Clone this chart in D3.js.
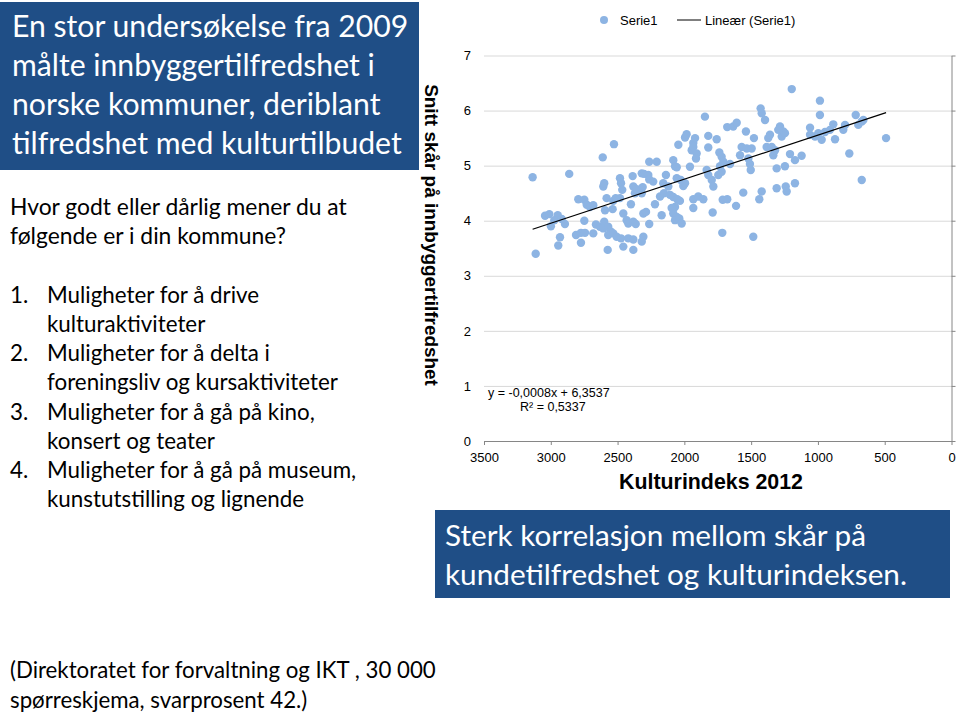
<!DOCTYPE html>
<html>
<head>
<meta charset="utf-8">
<script src="https://cdn.jsdelivr.net/npm/d3@7"></script>
<style>
  body { margin: 0; background: #fff; }
  svg { display: block; }
</style>
</head>
<body>
<svg id="chart" width="960" height="715"></svg>
<script>
// kulturindeks (x) and snitt skår (y) per kommune
var kulturindeks = [
  3136,3113,2862,2527,2611,3043,3011,2948,2974,2999,2918,2894,2931,2944,
  2811,2774,2774,2744,2794,2749,2731,2707,2682,2749,
  2682,2662,2632,2600,2607,2570,2549,2570,2532,2507,2474,2457,2420,2382,2382,2574,
  2607,2600,2582,2532,2514,2482,2594,2537,2482,2474,2465,2387,2319,
  2382,2357,2370,2400,2319,2457,2432,2420,2382,2364,
  2312,2302,2270,2263,2233,2263,2207,2307,2287,2263,2307,2319,
  2220,2182,2170,2153,2138,2158,2120,2108,2083,2070,2095,2083,2057,2070,2038,2020,
  2053,2033,2057,2027,2008,1995,2083,2070,2057,2045,1995,1983,1958,
  1945,1933,1920,1908,1913,1933,1933,1933,1896,1858,
  1846,1833,1821,1795,1783,1788,1821,1821,1758,1738,1721,1708,1733,1746,1721,
  1713,1679,1716,1679,1634,1608,1658,1613,1559,
  1583,1571,1533,1496,1521,1509,1503,1539,1479,1484,
  1429,1421,1396,1384,1372,1421,1439,
  1196,1359,1346,1334,1321,1284,1271,1259,1247,1297,
  1209,1172,1122,1309,1247,1309,1241,1234,1172,
  985,985,1059,1059,1022,997,972,947,910,885,872,810,797,
  717,698,672,660,765,672,490
];
var snittSkar = [
  4.79,3.40,4.85,5.39,5.15,4.09,4.12,4.10,4.01,3.90,4.03,3.94,3.70,3.55,
  3.74,3.78,3.60,3.78,4.39,4.38,4.29,4.25,4.28,4.00,
  3.77,3.93,3.89,3.98,3.86,3.89,3.80,3.74,3.77,3.71,3.68,3.53,3.68,3.66,3.47,3.47,
  4.62,4.68,4.41,4.36,4.41,4.41,4.19,4.21,4.77,4.68,4.56,4.81,4.86,
  4.62,4.57,4.50,4.30,4.50,4.13,4.01,3.95,3.98,3.94,
  4.61,4.85,4.83,4.75,4.71,5.07,5.07,4.13,4.16,3.94,3.71,3.62,
  4.30,4.44,4.10,4.50,4.83,4.68,4.62,4.47,4.43,4.25,4.23,4.13,4.07,4.01,4.04,3.95,
  4.39,4.36,4.77,4.74,4.63,4.68,5.10,4.99,4.97,5.38,5.51,5.57,4.98,
  5.28,5.41,5.50,5.22,5.13,5.34,4.23,4.39,4.44,4.39,
  5.89,4.92,4.83,4.74,4.62,4.15,5.54,5.33,5.48,5.24,5.16,5.07,4.99,4.83,4.89,
  4.38,4.39,3.78,5.70,5.71,5.78,5.03,4.27,4.51,
  5.19,5.34,5.31,5.31,5.13,5.03,4.92,5.62,5.50,3.71,
  6.04,5.95,5.83,5.34,5.50,4.53,4.39,
  6.39,5.56,5.34,5.19,5.28,5.71,5.53,5.62,5.59,5.65,
  5.21,5.10,5.18,4.95,4.99,4.59,4.62,4.53,4.68,
  6.18,5.92,5.69,5.56,5.53,5.59,5.47,5.61,5.65,5.75,5.48,5.65,5.74,
  5.92,5.74,5.80,5.83,5.22,4.74,5.50
];
var xTicks = [3500, 3000, 2500, 2000, 1500, 1000, 500, 0];
var yTicks = [0, 1, 2, 3, 4, 5, 6, 7];
var trendSlope = -0.0008;
var trendIntercept = 6.3537;
var equationLines = ["y = -0,0008x + 6,3537", "R\u00b2 = 0,5337"];
var legendLabels = ["Serie1", "Line\u00e6r (Serie1)"];
var yTitle = "Snitt sk\u00e5r p\u00e5 innbyggertilfredshet";
var xTitle = "Kulturindeks 2012";

var titleLines = ["En stor unders\u00f8kelse fra 2009", "m\u00e5lte innbyggertilfredshet i",
  "norske kommuner, deriblant", "tilfredshet med kulturtilbudet"];
var questionLines = ["Hvor godt eller d\u00e5rlig mener du at", "f\u00f8lgende er i din kommune?"];
var listItems = [
  ["1.", "Muligheter for \u00e5 drive", "kulturaktiviteter"],
  ["2.", "Muligheter for \u00e5 delta i", "foreningsliv og kursaktiviteter"],
  ["3.", "Muligheter for \u00e5 g\u00e5 p\u00e5 kino,", "konsert og teater"],
  ["4.", "Muligheter for \u00e5 g\u00e5 p\u00e5 museum,", "kunstutstilling og lignende"]
];
var conclusionLines = ["Sterk korrelasjon mellom sk\u00e5r p\u00e5", "kundetilfredshet og kulturindeksen."];
var sourceLines = ["(Direktoratet for forvaltning og IKT , 30 000", "sp\u00f8rreskjema, svarprosent 42.)"];

var points = kulturindeks.map(function(d, i){ return {x: d, y: snittSkar[i]}; });

var svg = d3.select("#chart");
var BLUE = "#1f4e86";
var SANS = "Lato, 'Open Sans', sans-serif";
var ARIAL = "'Liberation Sans', Arial, sans-serif";

// scale a block of text lines so its reference line gets the wanted width
function fitBlock(sel, refNode, target) {
  var fs = parseFloat(d3.select(refNode).attr("font-size"));
  var w = refNode.getComputedTextLength();
  sel.attr("font-size", fs * target / w);
}

// ---- left side text ----
svg.append("rect").attr("x", 0).attr("y", 2).attr("width", 419).attr("height", 168).attr("fill", BLUE);
var tl = svg.selectAll("text.title").data(titleLines).enter().append("text")
  .attr("class", "title").attr("x", 12).attr("y", function(d, i){ return 37 + i * 39; })
  .attr("font-family", SANS).attr("font-size", 28).attr("fill", "#fff").text(function(d){ return d; });
fitBlock(tl, tl.nodes()[3], 390);

var ql = svg.selectAll("text.q").data(questionLines).enter().append("text")
  .attr("class", "q").attr("x", 10).attr("y", function(d, i){ return 215 + i * 28.5; })
  .attr("font-family", SANS).attr("font-size", 21).attr("fill", "#000").text(function(d){ return d; });
fitBlock(ql, ql.nodes()[0], 337);

var items = svg.selectAll("g.item").data(listItems).enter().append("g").attr("class", "item")
  .attr("transform", function(d, i){ return "translate(0," + (303 + i * 58.3) + ")"; });
items.append("text").attr("class", "li").attr("x", 10).attr("y", 0).text(function(d){ return d[0]; });
items.append("text").attr("class", "li").attr("x", 47).attr("y", 0).text(function(d){ return d[1]; });
items.append("text").attr("class", "li").attr("x", 47).attr("y", 29).text(function(d){ return d[2]; });
var li = svg.selectAll("text.li").attr("font-family", SANS).attr("font-size", 21).attr("fill", "#000");
fitBlock(li, items.nodes()[1].childNodes[2], 291);

var sl = svg.selectAll("text.src").data(sourceLines).enter().append("text")
  .attr("class", "src").attr("x", 10).attr("y", function(d, i){ return 678 + i * 29.5; })
  .attr("font-family", SANS).attr("font-size", 21).attr("fill", "#000").text(function(d){ return d; });
fitBlock(sl, sl.nodes()[0], 426);

svg.append("rect").attr("x", 435).attr("y", 510).attr("width", 515).attr("height", 88).attr("fill", BLUE);
var cl = svg.selectAll("text.conc").data(conclusionLines).enter().append("text")
  .attr("class", "conc").attr("x", 445).attr("y", function(d, i){ return 546 + i * 38.5; })
  .attr("font-family", SANS).attr("font-size", 28).attr("fill", "#fff").text(function(d){ return d; });
fitBlock(cl, cl.nodes()[1], 462);

// ---- chart ----
var x = d3.scaleLinear().domain([3500, 0]).range([484, 951.5]);
var y = d3.scaleLinear().domain([0, 7]).range([441, 55.5]);
var fmt = d3.format("d");

// gridlines
svg.append("g").attr("transform", "translate(484,0)")
  .call(d3.axisLeft(y).tickValues(yTicks.slice(1)).tickSize(-(951.5 - 484)).tickFormat(""))
  .call(function(g){ g.select(".domain").remove(); g.selectAll("line").attr("stroke", "#d9d9d9"); });

// y labels sit on the left, axis line on the right (x = 0)
svg.append("g").attr("transform", "translate(484,0)")
  .call(d3.axisLeft(y).tickValues(yTicks).tickFormat(fmt).tickSize(0).tickPadding(13))
  .call(function(g){
    g.select(".domain").remove();
    g.selectAll("text").attr("font-family", ARIAL).attr("font-size", 13).attr("fill", "#000");
  });
svg.append("g").attr("transform", "translate(951.5,0)")
  .call(d3.axisRight(y).tickValues(yTicks).tickSize(4).tickSizeOuter(0).tickFormat(""))
  .call(function(g){ g.selectAll("line, path").attr("stroke", "#868686"); });

svg.append("g").attr("transform", "translate(0,441)")
  .call(d3.axisBottom(x).tickValues(xTicks).tickFormat(fmt).tickSize(4).tickSizeOuter(0).tickPadding(8))
  .call(function(g){
    g.selectAll("line, path").attr("stroke", "#868686");
    g.selectAll("text").attr("font-family", ARIAL).attr("font-size", 13).attr("fill", "#000");
  });

// points
svg.append("g").selectAll("circle").data(points).enter().append("circle")
  .attr("cx", function(d){ return x(d.x); }).attr("cy", function(d){ return y(d.y); })
  .attr("r", 4.2).attr("fill", "#8db4e3");

// linear trend over the data range
var xr = d3.extent(kulturindeks);
svg.append("path")
  .attr("d", d3.line().x(function(d){ return x(d); }).y(function(d){ return y(trendSlope * d + trendIntercept); })(xr))
  .attr("stroke", "#000").attr("stroke-width", 1.3).attr("fill", "none");

svg.append("text").attr("x", 488).attr("y", 397).attr("font-family", ARIAL).attr("font-size", 12.5)
  .text(equationLines[0]);
svg.append("text").attr("x", 520).attr("y", 411).attr("font-family", ARIAL).attr("font-size", 12.5)
  .text(equationLines[1]);

// axis titles
var yt = svg.append("text").attr("transform", "translate(432,235) rotate(90)")
  .attr("text-anchor", "middle").attr("dy", "0.35em")
  .attr("font-family", ARIAL).attr("font-weight", "bold").attr("font-size", 18).text(yTitle);
fitBlock(yt, yt.node(), 302);
var xt = svg.append("text").attr("x", 711).attr("y", 489).attr("text-anchor", "middle")
  .attr("font-family", ARIAL).attr("font-weight", "bold").attr("font-size", 19).text(xTitle);
fitBlock(xt, xt.node(), 184);

// legend
var lg = svg.append("g");
lg.append("circle").attr("cx", 604).attr("cy", 20).attr("r", 4).attr("fill", "#8db4e3");
lg.append("text").attr("x", 620).attr("y", 25).text(legendLabels[0]);
lg.append("line").attr("x1", 677).attr("x2", 701).attr("y1", 20).attr("y2", 20).attr("stroke", "#000").attr("stroke-width", 1);
lg.append("text").attr("x", 705).attr("y", 25).text(legendLabels[1]);
lg.selectAll("text").attr("font-family", ARIAL).attr("font-size", 13).attr("fill", "#000");
</script>
</body>
</html>
